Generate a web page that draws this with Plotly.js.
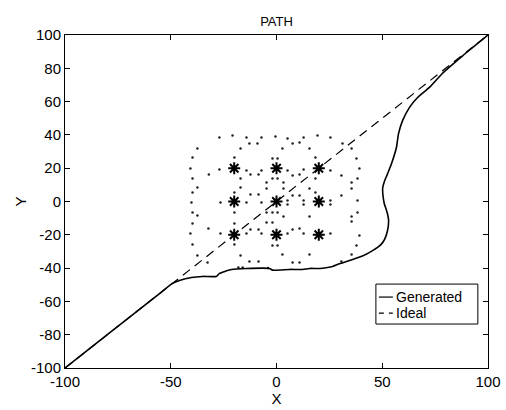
<!DOCTYPE html>
<html>
<head>
<meta charset="utf-8">
<script src="https://cdn.plot.ly/plotly-3.0.1.min.js"></script>
<style>
  html, body { margin: 0; padding: 0; background: #fff; }
  #chart { width: 506px; height: 410px; }
</style>
</head>
<body>
<div id="chart"></div>
<script>
// Ideal straight path from corner to corner
const idealX = [-100, 100];
const idealY = [-100, 100];

// Generated path around the obstacle field
const genX = [-100, -80, -60, -55, -49.2, -45.9, -40.2, -35, -28.4, -27, -24, -21.3, -14.2, -3.3, -1.9, 6.1, 12.3, 15.6, 20.3, 24.1, 26.5, 29.8, 34.5, 39, 42.6, 45, 47.8, 50, 51.1, 52.5, 53, 52.5, 51.8, 51, 50.4, 50.2, 51, 52.3, 54.4, 56.7, 57.7, 59.6, 62.9, 66.7, 72.3, 78.5, 88, 100];
const genY = [-100, -80, -60, -55, -49.2, -47.4, -45.6, -45, -45, -43.2, -41.8, -40.8, -40.2, -40.2, -41.2, -40.8, -40.8, -40.2, -40.2, -39.6, -39, -37.4, -35.5, -33.5, -31.5, -29.8, -27.6, -25, -22.8, -17.4, -11.4, -7.5, -4.5, -1.5, 3, 8, 12, 16, 22.8, 32.4, 40.8, 48.6, 56.5, 62.5, 68.5, 77, 87.5, 100];

// Obstacle centres
const starX = [-20, 0, 20, -20, 0, 20, -20, 0, 20];
const starY = [20, 20, 20, 0, 0, 0, -20, -20, -20];

// Sample points of the field
const dotX = [
  -27, -20.8, -14.2, -7.1, -0.5, -12.8, -9, -37.4, -17, -39.7, -19.9, -1.9, 0.5,
  -40.7, -27, -32, -14.2, -7.1, -12.3, -8.5, -39.7, -17, -1.9, 0.5, -37.4, -17, -4.7, -4.7,
  -39.7, -19.9, -12.3, -8.5,
  5.2, 12.8, 19.4, 25.5, 7.6, 10.9, 2.8, 15.6, 35.5, 31.2, 18.4, 37.8,
  5.2, 12.8, 7.6, 10.9, 25.5, 39.2, 30.7, 18.4, 35.5, 38.3, 3.3, 3.3, 15.6, 35.5, 18.4,
  -40.2, -26.5, -14.2, -7.1,
  5.2, 5.2, 7.6, 10.9, 12.8, 12.8, 25.5, 25.5, 30.7, 38.3,
  -39.7, -37.4, -19.9, -4.7, -39.7, -32.2, -19.9, -12.3, -8.5, -4.7, -1.9,
  -40.7, -26.5, -14.2, -7.1, -39.7, -19.9, -37.4, -17, -12.8, -8.5, -32.6,
  -1.9, 0.5, 3.3, 15.6, 35.5, 38.3,
  5.2, 7.6, 10.9, 12.8, 25.5, 39.2, 35.5,
  2.8, 7.6, 10.9, 15.6, 30.7, 35.5, 37.8, -1.9, 0.5,
  -18, -16, -4
];
const dotY = [
  38.4, 39.6, 38.4, 38.4, 39, 34.8, 34.8, 31.8, 31.8, 26.4, 26.4, 25.8, 25.8,
  19.8, 19.2, 16.2, 18.6, 18.6, 16.2, 16.2, 13.8, 13.8, 13.8, 13.8, 8.4, 8.4, 11.4, 7.8,
  5.4, 5.4, 4.2, 4.2,
  37.8, 38.4, 39.6, 38.4, 34.8, 35.4, 31.8, 31.8, 31.8, 34.8, 26.4, 25.8,
  18.6, 19.2, 15.6, 16.2, 18.6, 19.8, 15.6, 13.8, 11.4, 13.8, 11.4, 7.8, 7.8, 7.8, 5.4,
  -0.6, -0.6, -0.6, -0.6,
  0.6, -1.8, 3.6, 3.6, 0.6, -1.8, 0.6, -1.8, 3.6, 0.6,
  -6.6, -8.4, -6.6, -6.6, -13.2, -16.2, -13.2, -16.8, -16.8, -12.6, -12.6,
  -19.2, -19.2, -19.2, -19.2, -25.8, -25.8, -32.4, -32.4, -36, -36, -36.6,
  -6.6, -6.6, -9, -9, -9, -6.6,
  -19.2, -16.8, -16.2, -19.2, -19.2, -20.4, -12,
  -31.8, -36.6, -36.6, -31.8, -36, -31.8, -26.4, -26.4, -26.4,
  -39.6, -39.6, -40
];

// Axis ticks
const xTickVals = [-100, -50, 0, 50, 100];
const xTickText = ['-100', '-50', '0', '50', '100'];
const yTickVals = [-100, -80, -60, -40, -20, 0, 20, 40, 60, 80, 100];
const yTickText = ['-100', '-80', '-60', '-40', '-20', '0', '20', '40', '60', '80', '100'];

// Legend entries
const legendNames = ['Generated', 'Ideal'];

const FONT = 'Arial, "Liberation Sans", Helvetica, sans-serif';

const traces = [
  {
    x: dotX, y: dotY, mode: 'markers', type: 'scatter',
    marker: { size: 2.5, color: '#222' }, hoverinfo: 'skip'
  },
  {
    x: idealX, y: idealY, mode: 'lines', type: 'scatter', name: legendNames[1],
    line: { color: '#000', width: 1.2, dash: '9px,6px' }
  },
  {
    x: genX, y: genY, mode: 'lines', type: 'scatter', name: legendNames[0],
    line: { color: '#000', width: 1.6, shape: 'spline', smoothing: 0.5 }
  },
  {
    x: starX, y: starY, mode: 'markers', type: 'scatter',
    marker: { symbol: 'asterisk-open', size: 10, color: '#000', line: { color: '#000', width: 2 } }
  }
];

const axisCommon = {
  ticks: 'inside', ticklen: 5, tickwidth: 1, tickcolor: '#000',
  showline: true, linecolor: '#000', linewidth: 1, mirror: 'ticks',
  showgrid: false, zeroline: false,
  tickfont: { family: FONT, size: 15, color: '#000' }
};

// Legend box drawn in paper coordinates
const shapes = [
  { type: 'rect', xref: 'paper', yref: 'paper', x0: 0.735, x1: 0.976, y0: 0.132, y1: 0.252,
    line: { color: '#000', width: 1 }, fillcolor: '#fff', layer: 'above' },
  { type: 'line', xref: 'paper', yref: 'paper', x0: 0.742, x1: 0.775, y0: 0.213, y1: 0.213,
    line: { color: '#000', width: 1.2 } },
  { type: 'line', xref: 'paper', yref: 'paper', x0: 0.742, x1: 0.775, y0: 0.165, y1: 0.165,
    line: { color: '#000', width: 1.2, dash: '5px,5px' } }
];

const annotations = [
  { xref: 'paper', yref: 'paper', x: 0.779, y: 0.213, xanchor: 'left', yanchor: 'middle',
    text: legendNames[0], showarrow: false, borderpad: 0,
    font: { family: FONT, size: 14, color: '#000' } },
  { xref: 'paper', yref: 'paper', x: 0.779, y: 0.165, xanchor: 'left', yanchor: 'middle',
    text: legendNames[1], showarrow: false, borderpad: 0,
    font: { family: FONT, size: 14, color: '#000' } }
];

const layout = {
  width: 506, height: 410,
  margin: { l: 65, r: 18, t: 35, b: 42, pad: 0 },
  paper_bgcolor: '#fff', plot_bgcolor: '#fff',
  showlegend: false,
  font: { family: FONT, color: '#000' },
  title: {
    text: 'PATH', xref: 'paper', x: 0.5, xanchor: 'center',
    yref: 'container', y: 0.948, yanchor: 'middle',
    font: { family: FONT, size: 13, color: '#000' }
  },
  xaxis: Object.assign({}, axisCommon, {
    range: [-100, 100], tickvals: xTickVals, ticktext: xTickText,
    title: { text: 'X', standoff: 0, font: { family: FONT, size: 15, color: '#000' } }
  }),
  yaxis: Object.assign({}, axisCommon, {
    range: [-100, 100], tickvals: yTickVals, ticktext: yTickText,
    title: { text: 'Y', standoff: 0, font: { family: FONT, size: 15, color: '#000' } }
  }),
  shapes: shapes,
  annotations: annotations
};

Plotly.newPlot('chart', traces, layout, { staticPlot: true, displayModeBar: false });
</script>
</body>
</html>
